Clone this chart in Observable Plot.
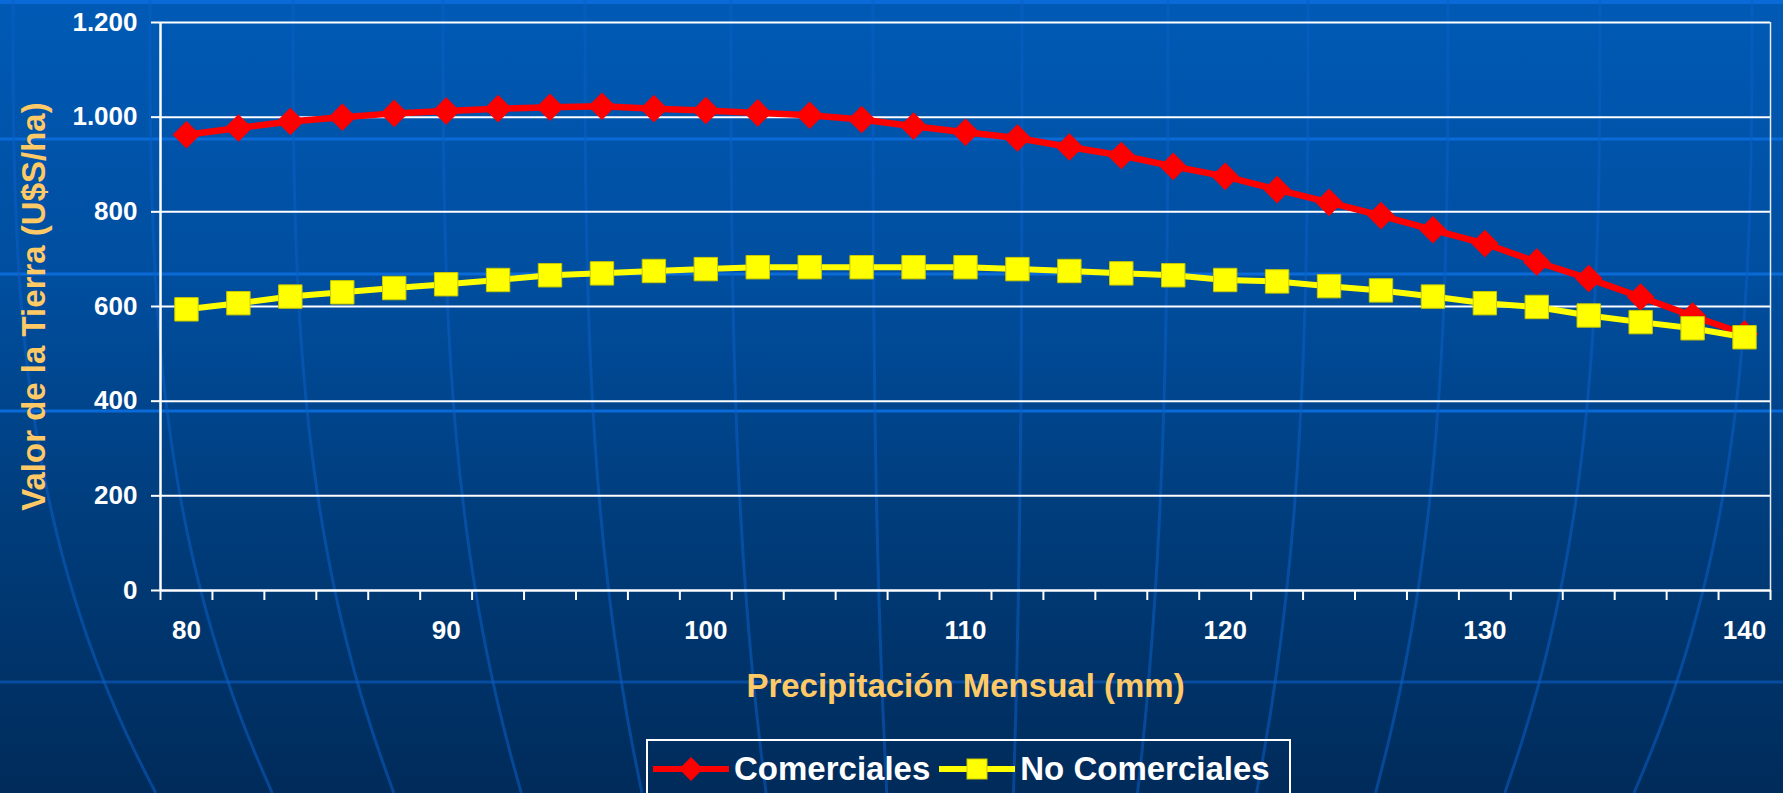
<!DOCTYPE html>
<html>
<head>
<meta charset="utf-8">
<script src="https://cdn.jsdelivr.net/npm/d3@7"></script>
<script src="https://cdn.jsdelivr.net/npm/@observablehq/plot@0.6"></script>
<style>
  html, body { margin: 0; padding: 0; }
  body {
    width: 1783px; height: 793px; overflow: hidden; position: relative;
    background: linear-gradient(to bottom, #005ab5 0%, #004e9f 35%, #003d7c 65%, #002b5a 100%);
    font-family: "Liberation Sans", Arial, sans-serif;
  }
  #bg { position: absolute; left: 0; top: 0; z-index: 0; }
  #chart { position: relative; z-index: 1; }
  #chart svg { display: block; overflow: visible; }
  #legend {
    position: relative; z-index: 1;
    margin-left: 646px; margin-top: 14px;
    width: 645px; height: 60px; box-sizing: border-box;
    border: 2px solid #ffffff;
    display: flex; align-items: center;
    color: #ffffff; font-weight: bold; font-size: 33px;
  }
  #legend .item { display: flex; align-items: center; }
  #legend svg { display: block; }
</style>
</head>
<body>
<svg id="bg" width="1783" height="793"></svg>
<div id="chart"></div>
<div id="legend"></div>
<script>
// ---- Data ----
const precip = [80, 82, 84, 86, 88, 90, 92, 94, 96, 98, 100, 102, 104, 106, 108, 110,
                112, 114, 116, 118, 120, 122, 124, 126, 128, 130, 132, 134, 136, 138, 140];
const comerciales = [963, 977, 991, 1000, 1008, 1013, 1018, 1021, 1023, 1018, 1014, 1009, 1004, 995, 981, 968,
                     956, 937, 919, 896, 875, 847, 820, 792, 762, 733, 694, 659, 620, 580, 542];
const noComerciales = [594, 607, 621, 630, 639, 647, 656, 666, 670, 675, 679, 683, 683, 683, 683, 683,
                       679, 675, 670, 666, 656, 653, 643, 634, 621, 607, 599, 581, 567, 554, 535];
const seriesNames = ["Comerciales", "No Comerciales"];
const xTickLabels = [80, 90, 100, 110, 120, 130, 140];
const yTicks = [0, 200, 400, 600, 800, 1000, 1200];
const yTickLabels = ["0", "200", "400", "600", "800", "1.000", "1.200"];
const xTitle = "Precipitación Mensual (mm)";
const yTitle = "Valor de la Tierra (U$S/ha)";

// ---- Decorative background (globe lines) ----
(function drawBackground() {
  const svg = d3.select("#bg");
  const W = 1783, H = 793;
  [139, 274, 411].forEach(y => svg.append("line").attr("x1", 0).attr("x2", W).attr("y1", y).attr("y2", y)
    .attr("stroke", "#0a6ad8").attr("stroke-width", 3));
  svg.append("line").attr("x1", 0).attr("x2", W).attr("y1", 2).attr("y2", 2).attr("stroke", "#0a6ad8").attr("stroke-width", 4);
  svg.append("line").attr("x1", 0).attr("x2", W).attr("y1", 682).attr("y2", 682)
    .attr("stroke", "#0b5ec4").attr("stroke-opacity", 0.6).attr("stroke-width", 3);
  const tops = [13, 150, 293, 443, 585, 731, 873, 1022, 1168, 1308, 1448, 1600, 1752];
  const line = d3.line().curve(d3.curveBasis);
  tops.forEach(x0 => {
    const k = -0.15 * (x0 - 965);
    const pts = d3.range(0, 1.0001, 0.05).map(t => [x0 + k * t * t * t, t * H]);
    svg.append("path").attr("d", line(pts)).attr("fill", "none")
      .attr("stroke", "#0b5ec4").attr("stroke-opacity", 0.55).attr("stroke-width", 3);
  });
})();

// ---- Chart ----
const rows = precip.flatMap((p, i) => [
  {x: p, y: comerciales[i], s: seriesNames[0]},
  {x: p, y: noComerciales[i], s: seriesNames[1]}
]);
const rowsA = rows.filter(d => d.s === seriesNames[0]);
const rowsB = rows.filter(d => d.s === seriesNames[1]);
const xDomain = [precip[0] - 1, precip[precip.length - 1] + 1];
const boundaries = precip.map(p => p - 1).concat([xDomain[1]]);

const chart = Plot.plot({
  width: 1783,
  height: 725,
  marginTop: 22,
  marginLeft: 160,
  marginRight: 13,
  marginBottom: 135,
  style: {background: "transparent", color: "white", fontFamily: "'Liberation Sans', Arial, sans-serif", fontWeight: "bold", fontSize: "26px", overflow: "visible"},
  x: {type: "linear", domain: xDomain},
  y: {domain: [yTicks[0], yTicks[yTicks.length - 1]]},
  marks: [
    Plot.gridY(yTicks.filter(d => d > 0), {stroke: "white", strokeOpacity: 1, strokeWidth: 2}),
    Plot.ruleX([xDomain[1]], {stroke: "#e4e8f0", strokeWidth: 1.5}),
    Plot.ruleX([xDomain[0]], {stroke: "white", strokeWidth: 2.5}),
    Plot.ruleY([0], {stroke: "white", strokeWidth: 2.5}),
    Plot.axisY(yTicks, {tickSize: 9, tickPadding: 14, stroke: "white", strokeWidth: 2, fontSize: 26,
      tickFormat: d => yTickLabels[yTicks.indexOf(d)], label: null}),
    Plot.axisX(boundaries, {tickSize: 10, tickFormat: () => "", stroke: "white", strokeWidth: 2, label: null}),
    Plot.axisX(xTickLabels, {tickSize: 0, tickPadding: 30, fontSize: 26, tickFormat: d => String(d), label: null}),
    Plot.line(rowsA, {x: "x", y: "y", stroke: "#ff0000", strokeWidth: 6.5}),
    Plot.dot(rowsA, {x: "x", y: "y", symbol: "diamond2", r: 12.2, fill: "#ff0000", stroke: "#ff0000", strokeWidth: 0.5}),
    Plot.line(rowsB, {x: "x", y: "y", stroke: "#ffff00", strokeWidth: 6}),
    Plot.dot(rowsB, {x: "x", y: "y", symbol: "square", r: 13.2, fill: "#ffff00", stroke: "#c9c900", strokeWidth: 1}),
    Plot.text([xTitle], {text: d => d, frameAnchor: "bottom", dy: 96, textAnchor: "middle", lineAnchor: "middle",
      fill: "#ffc966", fontSize: 33, fontWeight: "bold"}),
    Plot.text([yTitle], {text: d => d, frameAnchor: "left", dx: -126, rotate: -90, textAnchor: "middle", lineAnchor: "middle",
      fill: "#ffc966", fontSize: 33, fontWeight: "bold"})
  ]
});
document.getElementById("chart").appendChild(chart);

// ---- Legend ----
const legend = d3.select("#legend");
function swatch(color, shape, edge) {
  const s = legend.append("div").attr("class", "item");
  const svg = s.append("svg").attr("width", 78).attr("height", 34);
  svg.append("line").attr("x1", 1).attr("x2", 77).attr("y1", 17).attr("y2", 17)
    .attr("stroke", color).attr("stroke-width", 6);
  if (shape === "diamond") {
    svg.append("path").attr("d", "M39,5L51,17L39,29L27,17Z").attr("fill", color);
  } else {
    svg.append("rect").attr("x", 29).attr("y", 7).attr("width", 20).attr("height", 20)
      .attr("fill", color).attr("stroke", edge).attr("stroke-width", 1);
  }
  return s;
}
const a = swatch("#ff0000", "diamond");
a.style("margin-left", "4px");
a.append("span").text(seriesNames[0]).style("margin-left", "4px");
const b = swatch("#ffff00", "square", "#c9c900");
b.style("margin-left", "8px");
b.append("span").text(seriesNames[1]).style("margin-left", "4px");
</script>
</body>
</html>
